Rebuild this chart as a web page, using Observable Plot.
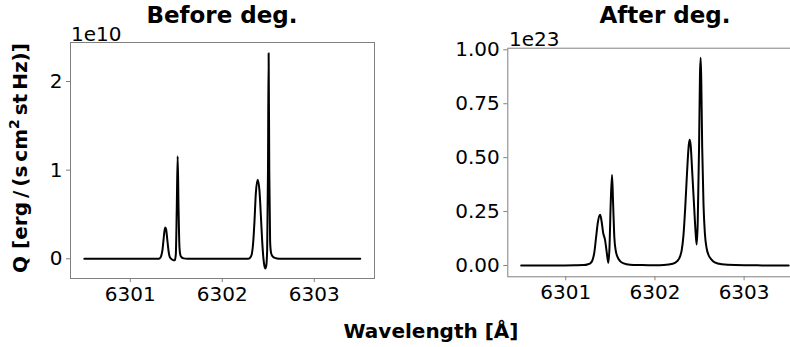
<!DOCTYPE html>
<html>
<head>
<meta charset="utf-8">
<script src="https://cdn.jsdelivr.net/npm/d3@7"></script>
<script src="https://cdn.jsdelivr.net/npm/@observablehq/plot@0.6"></script>
<style>
  html, body { margin: 0; padding: 0; background: #fff; }
  #wrap { position: relative; width: 790px; height: 347px; overflow: hidden; background: #fff; font-family: "DejaVu Sans", sans-serif; }
  #wrap svg.plot { position: absolute; top: 0; overflow: visible; }
  #wrap g[aria-label="x-axis tick"] path, #wrap g[aria-label="y-axis tick"] path { stroke: #808080; }
  #overlay { position: absolute; left: 0; top: 0; }
</style>
</head>
<body>
<div id="wrap"></div>
<script>
// Data
const beforeWl = [6300.5, 6301.0, 6301.3, 6301.32, 6301.335, 6301.35, 6301.36, 6301.37, 6301.38, 6301.39, 6301.40, 6301.41, 6301.42, 6301.43, 6301.45, 6301.47, 6301.485, 6301.495, 6301.505, 6301.515, 6301.525, 6301.535, 6301.545, 6301.56, 6301.58, 6301.62, 6301.9, 6302.2, 6302.28, 6302.30, 6302.32, 6302.335, 6302.35, 6302.365, 6302.385, 6302.405, 6302.42, 6302.435, 6302.448, 6302.458, 6302.468, 6302.478, 6302.488, 6302.497, 6302.504, 6302.511, 6302.52, 6302.53, 6302.545, 6302.57, 6302.62, 6303.0, 6303.5];
const beforeQ = [0, 0, 0, 0.005, 0.03, 0.10, 0.20, 0.30, 0.354, 0.33, 0.24, 0.14, 0.06, 0.02, -0.005, -0.015, -0.015, 0.05, 0.55, 1.156, 0.55, 0.12, 0.04, 0.015, 0.005, 0, 0, 0, 0, 0.01, 0.05, 0.17, 0.42, 0.74, 0.893, 0.76, 0.48, 0.18, 0.0, -0.08, -0.11, -0.08, 0.10, 1.0, 2.32, 1.0, 0.2, 0.07, 0.03, 0.01, 0, 0, 0];

const afterWl = [6300.5, 6300.9, 6301.1, 6301.2, 6301.25, 6301.28, 6301.30, 6301.32, 6301.34, 6301.36, 6301.385, 6301.40, 6301.42, 6301.44, 6301.46, 6301.478, 6301.49, 6301.505, 6301.519, 6301.53, 6301.545, 6301.56, 6301.58, 6301.61, 6301.65, 6301.72, 6301.85, 6302.0, 6302.10, 6302.20, 6302.25, 6302.28, 6302.30, 6302.32, 6302.34, 6302.36, 6302.38, 6302.39, 6302.40, 6302.42, 6302.44, 6302.455, 6302.468, 6302.48, 6302.495, 6302.505, 6302.513, 6302.52, 6302.53, 6302.545, 6302.56, 6302.58, 6302.60, 6302.63, 6302.67, 6302.75, 6302.9, 6303.2, 6303.5];
const afterQ = [0, 0, 0.001, 0.002, 0.006, 0.012, 0.025, 0.06, 0.13, 0.20, 0.235, 0.21, 0.15, 0.12, 0.06, 0.0125, 0.08, 0.30, 0.42, 0.30, 0.13, 0.07, 0.04, 0.02, 0.01, 0.004, 0.002, 0.001, 0.002, 0.008, 0.02, 0.04, 0.07, 0.14, 0.27, 0.43, 0.56, 0.583, 0.56, 0.42, 0.27, 0.16, 0.097, 0.20, 0.55, 0.88, 0.963, 0.85, 0.55, 0.28, 0.15, 0.08, 0.05, 0.03, 0.015, 0.006, 0.002, 0.0005, 0];

const xTicks = [6301, 6302, 6303];
const beforeTicks = [0, 1, 2];
const afterTicks = [0, 0.25, 0.5, 0.75, 1.0];
const titles = ["Before deg.", "After deg."];
const offsets = ["1e10", "1e23"];

const beforeData = beforeWl.map((w, i) => ({w, q: beforeQ[i]}));
const afterData = afterWl.map((w, i) => ({w, q: afterQ[i]}));

function panel({data, left, width, height, mL, mR, mT, mB, yDomain, yTicks, yFmt}) {
  const p = Plot.plot({
    width, height,
    marginLeft: mL, marginRight: mR, marginTop: mT, marginBottom: mB,
    style: {fontSize: "20px", fontFamily: "DejaVu Sans, sans-serif", color: "black", background: "transparent", overflow: "visible"},
    x: {domain: [6300.35, 6303.655], label: null},
    y: {domain: yDomain, label: null},
    marks: [
      Plot.line(data, {x: "w", y: "q", stroke: "black", strokeWidth: 2, curve: "monotone-x"}),
      Plot.frame({stroke: "#808080", strokeWidth: 1}),
      Plot.axisX({ticks: xTicks, tickSize: 4, tickPadding: 4, tickFormat: d => String(d), label: null}),
      Plot.axisY({ticks: yTicks, tickSize: 4, tickPadding: 4, tickFormat: yFmt, label: null})
    ]
  });
  p.classList.add("plot");
  p.style.left = left + "px";
  return p;
}

const wrap = document.getElementById("wrap");
wrap.appendChild(panel({data: beforeData, left: 0, width: 390, height: 310, mL: 70, mR: 16, mT: 42, mB: 32,
  yDomain: [-0.222, 2.44], yTicks: beforeTicks, yFmt: d => String(d)}));
wrap.appendChild(panel({data: afterData, left: 420, width: 420, height: 310, mL: 87.3, mR: 38, mT: 47.7, mB: 33.7,
  yDomain: [-0.0524, 1.0074], yTicks: afterTicks, yFmt: d => d.toFixed(2)}));

// overlay text
const ns = "http://www.w3.org/2000/svg";
const ov = document.createElementNS(ns, "svg");
ov.setAttribute("id", "overlay");
ov.setAttribute("width", 790);
ov.setAttribute("height", 347);
ov.style.fontFamily = "DejaVu Sans, sans-serif";
function txt(x, y, s, opts = {}) {
  const t = document.createElementNS(ns, "text");
  t.setAttribute("x", x); t.setAttribute("y", y);
  t.setAttribute("font-size", opts.size || 20);
  if (opts.bold) t.setAttribute("font-weight", "bold");
  t.setAttribute("text-anchor", opts.anchor || "start");
  if (opts.transform) t.setAttribute("transform", opts.transform);
  t.setAttribute("fill", "black");
  t.textContent = s;
  ov.appendChild(t);
  return t;
}
txt(222, 23, titles[0], {size: 23, bold: true, anchor: "middle"});
txt(665, 23, titles[1], {size: 23, bold: true, anchor: "middle"});
txt(71, 40.5, offsets[0], {size: 20});
txt(509, 45.5, offsets[1], {size: 20});
txt(431, 338, "Wavelength [Å]", {size: 20, bold: true, anchor: "middle"});
// y label with superscript
const yl = document.createElementNS(ns, "text");
yl.setAttribute("transform", "translate(27,158) rotate(-90)");
yl.setAttribute("text-anchor", "middle");
yl.setAttribute("font-size", 20);
yl.setAttribute("font-weight", "bold");
yl.setAttribute("fill", "black");
const a = document.createElementNS(ns, "tspan"); a.textContent = "Q [erg\u2009/\u2009(s\u2009cm";
const b = document.createElementNS(ns, "tspan"); b.textContent = "2"; b.setAttribute("font-size", 14); b.setAttribute("dy", -8);
const c = document.createElementNS(ns, "tspan"); c.textContent = "\u2009st\u2009Hz)]"; c.setAttribute("dy", 8);
yl.appendChild(a); yl.appendChild(b); yl.appendChild(c);
ov.appendChild(yl);
wrap.appendChild(ov);
</script>
</body>
</html>
